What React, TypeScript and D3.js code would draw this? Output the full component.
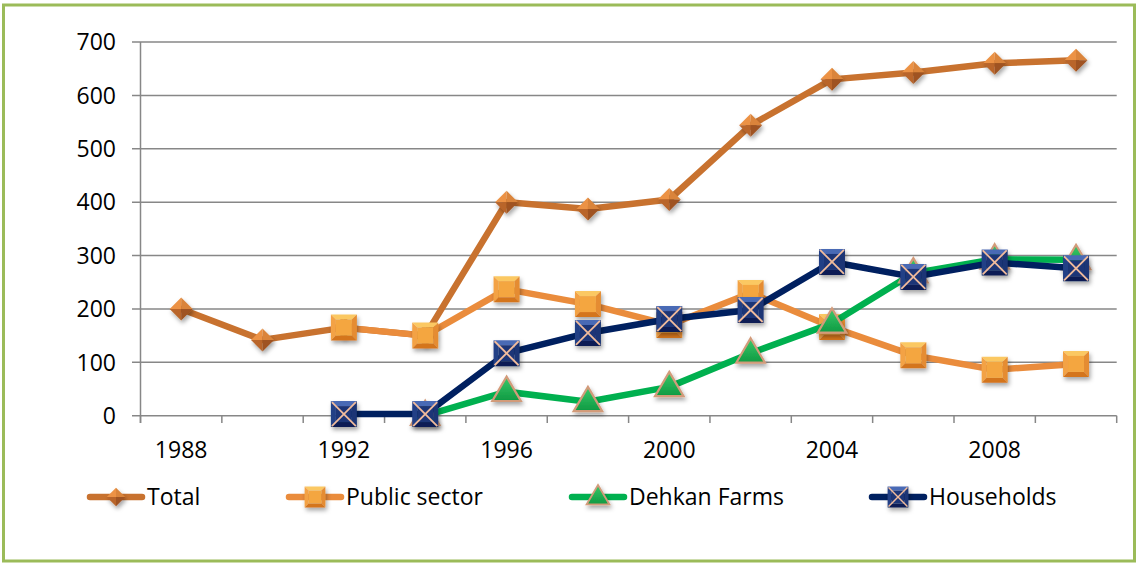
import React from "react";
import * as d3 from "d3";

const years = ["1988", "1990", "1992", "1994", "1996", "1998", "2000", "2002", "2004", "2006", "2008", "2010"];
const tickYears = ["1988", "1992", "1996", "2000", "2004", "2008"];
const yTicks = [0, 100, 200, 300, 400, 500, 600, 700];

const total: (number | null)[] = [200, 142, 165, 150, 400, 387, 405, 544, 630, 643, 660, 666];
const publicSector: (number | null)[] = [null, null, 165, 150, 237, 209, 170, 230, 166, 113, 86, 97];
const dehkanFarms: (number | null)[] = [null, null, null, 0, 45, 26, 54, 117, 173, 267, 293, 292];
const households: (number | null)[] = [null, null, 3, 3, 117, 155, 181, 198, 288, 260, 287, 276];

const seriesNames = ["Total", "Public sector", "Dehkan Farms", "Households"];

const W = 1137;
const H = 563;
const FONT = "'Open Sans', 'Noto Sans', sans-serif";

type Kind = "diamond" | "square" | "triangle" | "xsquare";

function Marker({ kind, cx, cy, k = 1 }: { kind: Kind; cx: number; cy: number; k?: number }) {
  const p = (a: number[][]) => a.map((q) => q.join(",")).join(" ");
  if (kind === "diamond") {
    const r = 11.5 * k;
    const t = [cx, cy - r], rgt = [cx + r, cy], b = [cx, cy + r], l = [cx - r, cy], c = [cx, cy];
    return (
      <g filter="url(#shadow)">
        <polygon points={p([l, t, c])} fill="#EC9245" />
        <polygon points={p([t, rgt, c])} fill="#DA843B" />
        <polygon points={p([l, b, c])} fill="#B9652A" />
        <polygon points={p([b, rgt, c])} fill="#9F5320" />
      </g>
    );
  }
  if (kind === "square" || kind === "xsquare") {
    const s = 13 * k;
    const i = 5 * k;
    const x0 = cx - s, x1 = cx + s, y0 = cy - s, y1 = cy + s;
    const cols =
      kind === "square"
        ? ["#FBC862", "#F3A244", "#E58C30", "#D4741F", "#F4A63F"]
        : ["#4A6AB5", "#223F86", "#1A3474", "#0E1F55", "#1C3577"];
    return (
      <g filter="url(#shadow)">
        <polygon points={p([[x0, y0], [x1, y0], [x1 - i, y0 + i], [x0 + i, y0 + i]])} fill={cols[0]} />
        <polygon points={p([[x0, y0], [x0 + i, y0 + i], [x0 + i, y1 - i], [x0, y1]])} fill={cols[1]} />
        <polygon points={p([[x1, y0], [x1, y1], [x1 - i, y1 - i], [x1 - i, y0 + i]])} fill={cols[2]} />
        <polygon points={p([[x0, y1], [x0 + i, y1 - i], [x1 - i, y1 - i], [x1, y1]])} fill={cols[3]} />
        <rect x={x0 + i} y={y0 + i} width={2 * (s - i)} height={2 * (s - i)} fill={cols[4]} />
        {kind === "xsquare" && (
          <g stroke="#F2BC9C" strokeWidth={1.8 * k}>
            <line x1={x0 + 1} y1={y0 + 1} x2={x1 - 1} y2={y1 - 1} />
            <line x1={x1 - 1} y1={y0 + 1} x2={x0 + 1} y2={y1 - 1} />
          </g>
        )}
      </g>
    );
  }
  const r = 15 * k;
  const pts = [
    [cx, cy - r],
    [cx + r * 0.95, cy + r * 0.62],
    [cx - r * 0.95, cy + r * 0.62],
  ];
  return (
    <g filter="url(#shadow)">
      <polygon points={p(pts)} fill="url(#gradGreen)" stroke="#D29B7A" strokeWidth={2.2 * k} strokeLinejoin="miter" />
    </g>
  );
}

export default function App() {
  const x = d3.scaleBand<string>().domain(years).range([140.5, 1116.7]).padding(0);
  const y = d3.scaleLinear().domain([0, 700]).range([415.7, 42]);
  const cx = (yr: string) => (x(yr) as number) + x.bandwidth() / 2;

  const series = [
    { name: seriesNames[0], values: total, color: "#C8722F", kind: "diamond" as Kind },
    { name: seriesNames[1], values: publicSector, color: "#EA8C3C", kind: "square" as Kind },
    { name: seriesNames[2], values: dehkanFarms, color: "#00B04F", kind: "triangle" as Kind },
    { name: seriesNames[3], values: households, color: "#002060", kind: "xsquare" as Kind },
  ];

  const line = d3
    .line<{ yr: string; v: number | null }>()
    .defined((d) => d.v !== null)
    .x((d) => cx(d.yr))
    .y((d) => y(d.v as number));

  const legendX = [87, 286, 569, 869];
  const legendY = 497;

  return (
    <svg width={W} height={H} style={{ position: "absolute", left: 0, top: 0, background: "#fff" }} fontFamily={FONT}>
      <defs>
        <filter id="shadow" x="-50%" y="-50%" width="200%" height="200%">
          <feDropShadow dx="1.5" dy="3" stdDeviation="2" floodColor="#000" floodOpacity="0.35" />
        </filter>
        <linearGradient id="gradGreen" x1="0" y1="0" x2="0" y2="1">
          <stop offset="0" stopColor="#3CC86A" />
          <stop offset="1" stopColor="#0E9A42" />
        </linearGradient>
      </defs>
      <rect x={0} y={0} width={W} height={H} fill="#fff" />
      <rect x={3.5} y={5} width={1131} height={556} fill="none" stroke="#9BBB59" strokeWidth={3} />

      {yTicks.map((t) => (
        <g key={t}>
          <line x1={132} x2={1116.7} y1={y(t)} y2={y(t)} stroke="#878787" strokeWidth={1.5} />
          <text x={116} y={y(t)} dy="0.36em" textAnchor="end" fontSize={23} fill="#000">
            {t}
          </text>
        </g>
      ))}
      <line x1={140.5} x2={140.5} y1={42} y2={423} stroke="#878787" strokeWidth={1.5} />
      {years.concat(["end"]).map((yr, i) => {
        const xx = 140.5 + i * x.bandwidth();
        return <line key={yr + i} x1={xx} x2={xx} y1={415.7} y2={423} stroke="#878787" strokeWidth={1.5} />;
      })}
      {tickYears.map((yr) => (
        <text key={yr} x={cx(yr)} y={458} textAnchor="middle" fontSize={23} fill="#000">
          {yr}
        </text>
      ))}

      {series.map((s) => {
        const pts = years.map((yr, i) => ({ yr, v: s.values[i] }));
        return (
          <g key={s.name}>
            <path d={line(pts) || ""} fill="none" stroke={s.color} strokeWidth={6.5} strokeLinejoin="round" strokeLinecap="round" />
            {pts
              .filter((d) => d.v !== null)
              .map((d) => (
                <Marker key={d.yr} kind={s.kind} cx={cx(d.yr)} cy={y(d.v as number)} />
              ))}
          </g>
        );
      })}

      {series.map((s, i) => (
        <g key={"lg" + s.name}>
          <line x1={legendX[i] + 3} x2={legendX[i] + 55} y1={legendY} y2={legendY} stroke={s.color} strokeWidth={6.5} strokeLinecap="round" />
          <Marker kind={s.kind} cx={legendX[i] + 29} cy={legendY} k={0.8} />
          <text x={legendX[i] + 60} y={legendY} dy="0.36em" fontSize={23} fill="#000">
            {s.name}
          </text>
        </g>
      ))}
    </svg>
  );
}
